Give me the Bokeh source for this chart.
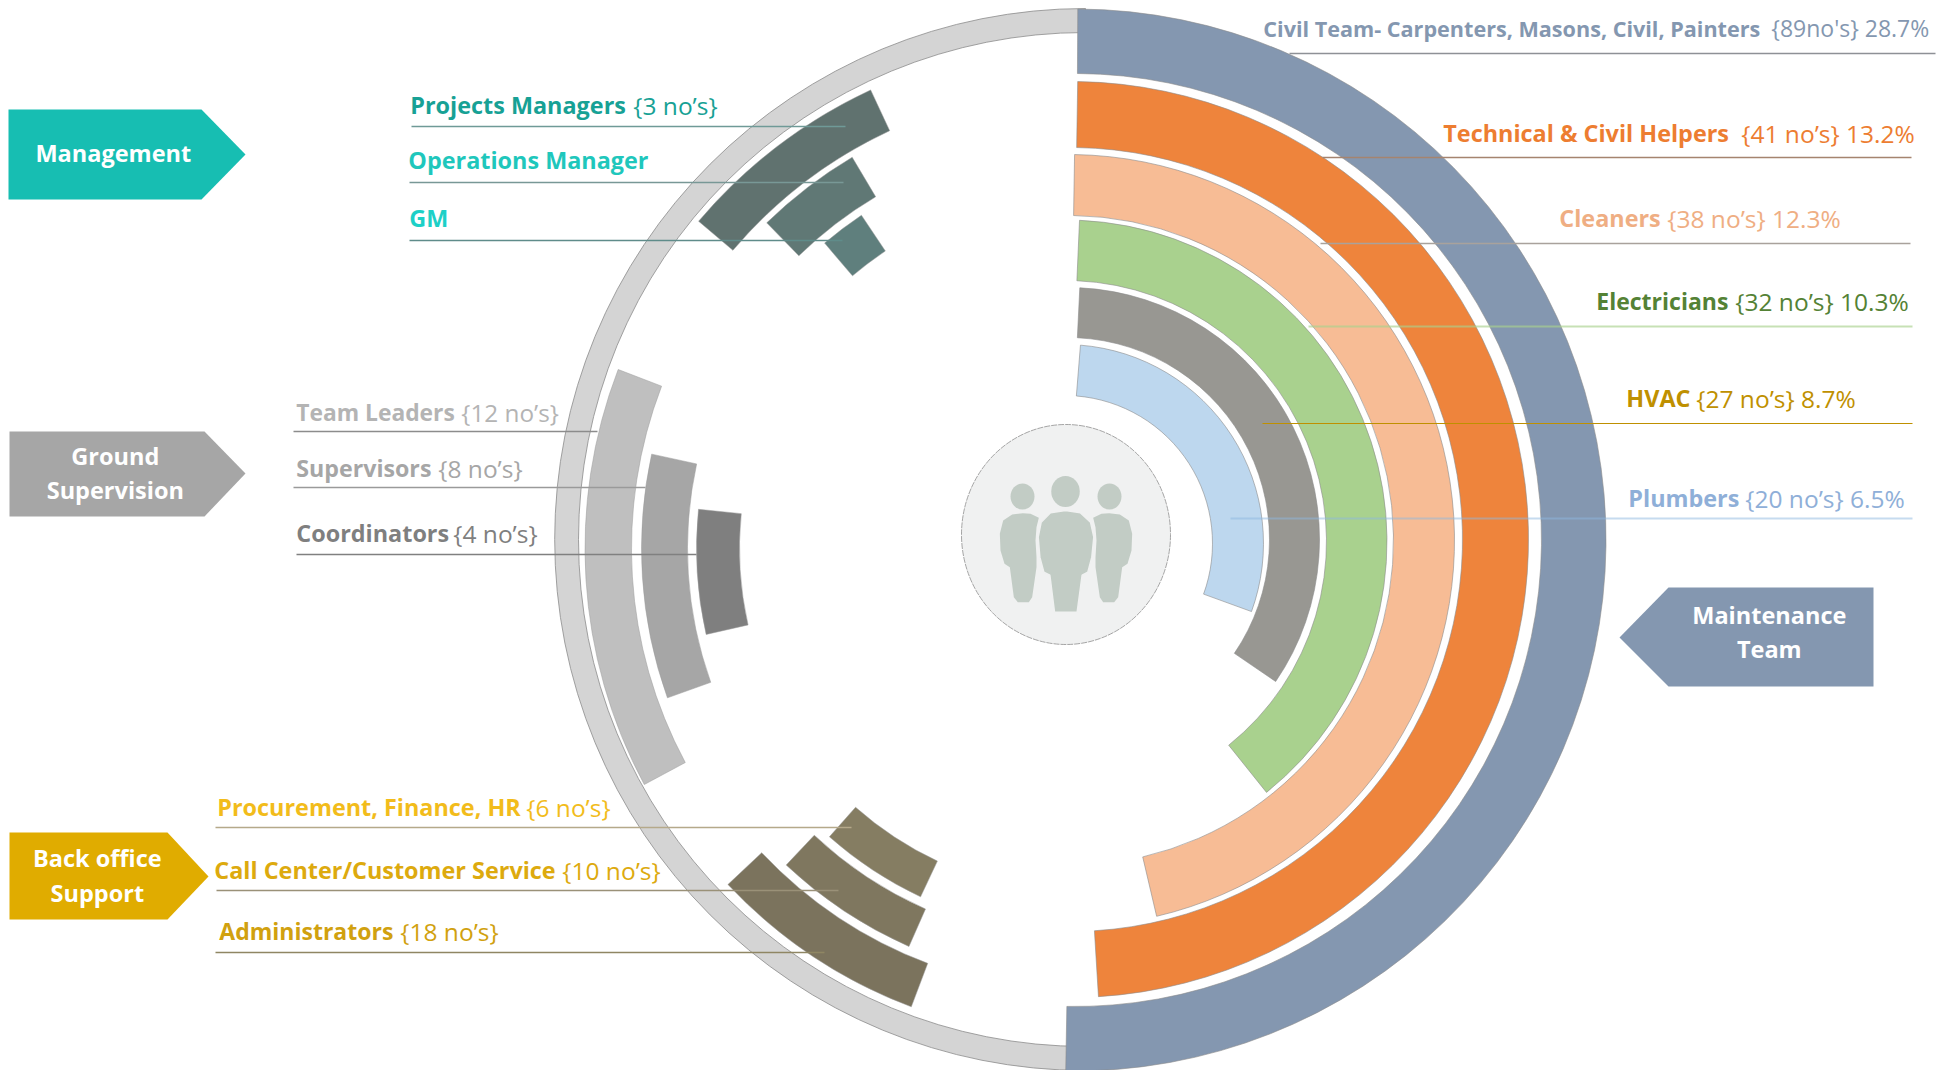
from bokeh.plotting import figure
from bokeh.models import Range1d, ColumnDataSource
from bokeh.core.properties import value
from bokeh.embed import file_html
from bokeh.resources import INLINE

H = 1070
FONT = "Open Sans"
TEXT_DY = 9.2
TEXT_DX = -1.2

# ---------- data: maintenance team (clockwise degrees from 12 o'clock)
maint_names = ["Civil Team- Carpenters, Masons, Civil, Painters", "Technical & Civil Helpers", "Cleaners",
               "Electricians", "HVAC", "Plumbers"]
maint_counts = [89, 41, 38, 32, 27, 20]
maint_pct = [28.7, 13.2, 12.3, 10.3, 8.7, 6.5]
maint_detail = ["{89no's} 28.7%", "{41 no’s} 13.2%", "{38 no’s} 12.3%", "{32 no’s} 10.3%", "{27 no’s} 8.7%", "{20 no’s} 6.5%"]
maint_from = [0.3, 0.9, 0.9, 2.5, 2.8, 4.6]
maint_to = [181.0, 176.5, 166.8, 141.3, 124.3, 110.0]

# other groups (counter-clockwise degrees from 3 o'clock)
mgmt_names = ["Projects Managers", "Operations Manager", "GM"]
mgmt_detail = ["{3 no’s}", "", ""]
mgmt_from = [115.0, 120.7, 123.8]
mgmt_to = [139.7, 134.3, 130.4]

ground_names = ["Team Leaders", "Supervisors", "Coordinators"]
ground_detail = ["{12 no’s}", "{8 no’s}", "{4 no’s}"]
ground_from = [159.0, 167.7, 174.2]
ground_to = [208.2, 199.7, 192.8]

back_names = ["Procurement, Finance, HR", "Call Center/Customer Service", "Administrators"]
back_detail = ["{6 no’s}", "{10 no’s}", "{18 no’s}"]
back_from = [228.5, 226.7, 223.3]
back_to = [244.8, 246.2, 249.3]

# ---------- layout & style
m_cx = [1074.5, 1070, 1068, 1065, 1067, 1064]
m_cy = [539.5, 539, 540, 541, 539, 543]
m_ro = [531, 458, 386, 321.5, 252, 199]
m_ri = [466.5, 392, 325, 261, 202, 148]
m_col = ["#8497B0", "#EE843C", "#F7BC95", "#A9D18E", "#989792", "#BDD7EE"]

L_CX, L_CY = 1084, 548
mg_ro, mg_ri = [506, 455, 401], [461, 409, 358]
mg_col = ["#60726F", "#607875", "#5F7F7D"]
gr_ro, gr_ri = [499.5, 443, 388], [453, 397, 345]
gr_col = ["#BFBFBF", "#A6A6A6", "#7F7F7F"]
bk_ro, bk_ri = [385, 435, 490], [345.5, 394, 443.5]
bk_col = ["#857D62", "#7F775F", "#7B735D"]

p = figure(width=1956, height=1070, x_range=Range1d(0, 1956), y_range=Range1d(0, 1070),
           output_backend="svg", toolbar_location=None, x_axis_type=None, y_axis_type=None,
           min_border=0, outline_line_color=None, background_fill_color="white", border_fill_color="white")
p.xgrid.visible = False
p.ygrid.visible = False


def Y(v):
    return H - v


# grey backing ring
p.annular_wedge(x=[1085], y=[Y(539)], inner_radius=[507], outer_radius=[531], start_angle=[90], end_angle=[270],
                start_angle_units="deg", end_angle_units="deg", fill_color="#D4D4D4",
                line_color="#8c8c8c", line_width=0.8)

# maintenance arcs
src = ColumnDataSource(dict(x=m_cx, y=[Y(v) for v in m_cy], ri=m_ri, ro=m_ro,
                            a0=[90 - v for v in maint_to], a1=[90 - v for v in maint_from], c=m_col))
p.annular_wedge(x="x", y="y", inner_radius="ri", outer_radius="ro", start_angle="a0", end_angle="a1",
                start_angle_units="deg", end_angle_units="deg", fill_color="c",
                line_color="#8c8c8c", line_width=0.6, source=src)

# other groups
for a0, a1, ri, ro, col in [(mgmt_from, mgmt_to, mg_ri, mg_ro, mg_col), (ground_from, ground_to, gr_ri, gr_ro, gr_col),
                            (back_from, back_to, bk_ri, bk_ro, bk_col)]:
    s = ColumnDataSource(dict(x=[L_CX] * 3, y=[Y(L_CY)] * 3, ri=ri, ro=ro, a0=a0, a1=a1, c=col))
    p.annular_wedge(x="x", y="y", inner_radius="ri", outer_radius="ro", start_angle="a0", end_angle="a1",
                    start_angle_units="deg", end_angle_units="deg", fill_color="c",
                    line_color="#9a9a9a", line_width=0.5, source=s)

# centre badge with people icon
p.ellipse(x=[1065.5], y=[Y(534)], width=[209], height=[220], fill_color="#F0F1F1", line_color="#8f8f8f",
          line_width=0.8, line_dash="6 1")
ICON = "#C2CCC5"
p.ellipse(x=[1065, 1022, 1109], y=[Y(491), Y(496), Y(496)], width=[28.5, 24, 24], height=[31, 26, 26], fill_color=ICON, line_color=None)
icon_mid = [(405, 330), (450, 337), (480, 365), (490, 410), (484, 470), (472, 515), (455, 524), (440, 635), (372, 635),
            (358, 524), (340, 515), (328, 470), (323, 410), (332, 365), (360, 337)]
icon_left = [(277, 338), (300, 340), (325, 352), (318, 380), (315, 420), (318, 470), (318, 500), (305, 590), (295, 605),
             (262, 605), (250, 590), (238, 500), (222, 490), (210, 450), (208, 400), (218, 360), (245, 342)]
p.patch([930 + a / 3 for a, b in icon_left], [Y(400 + b / 3) for a, b in icon_left], fill_color=ICON, line_color=None)
p.patch([930 + (813 - a) / 3 for a, b in icon_left], [Y(400 + b / 3) for a, b in icon_left], fill_color=ICON, line_color=None)
p.patch([930 + a / 3 for a, b in icon_mid], [Y(400 + b / 3) for a, b in icon_mid], fill_color=ICON, line_color="#F0F1F1", line_width=1.5)

# category arrows
arrows = [
    ([8, 201, 245, 201, 8], [109, 109, 154, 199, 199], "#17BEB2", ["Management"], [114], [162]),
    ([9, 204, 245, 204, 9], [431, 431, 473, 516, 516], "#A6A6A6", ["Ground", "Supervision"], [116, 116], [465, 499]),
    ([9, 167, 208, 167, 9], [832, 832, 876, 919, 919], "#E0AC00", ["Back office", "Support"], [98, 98], [867, 902]),
    ([1873, 1668, 1619, 1668, 1873], [587, 587, 637, 686, 686], "#8497B0", ["Maintenance", "Team"], [1770, 1770], [624, 658]),
]
for xs, ys, col, lines, tx, ty in arrows:
    p.patch(xs, [Y(v) for v in ys], fill_color=col, line_color=None)
    p.text(x=[v + TEXT_DX for v in tx], y=[Y(v - TEXT_DY) for v in ty], text=lines, text_color="white",
           text_font=value(FONT), text_font_size="23.5px",
           text_font_style="bold", text_align="center", text_baseline="alphabetic")

# leader lines: x0, x1, y, colour, width, alpha
leaders = [
    (411, 845, 126, "#6F9A97", 1.3, 1), (409, 843, 182, "#789896", 1.3, 1), (409, 842, 240, "#5F8C8A", 1.3, 1),
    (293, 597, 431, "#8C8C8C", 1.3, 1), (293, 645, 487, "#9A9A9A", 1.5, 1), (296, 696, 554, "#808080", 1.5, 1),
    (215, 851, 827, "#B5A98A", 1.6, 1), (216, 838, 890, "#9A9178", 1.4, 1), (215, 824, 952, "#8F8663", 1.5, 1),
    (1289, 1935, 53, "#8E9196", 1.4, 1), (1322, 1911, 157, "#A5846F", 1.3, 1), (1320, 1910, 243, "#A9A29C", 1.4, 1),
    (1308, 1912, 326, "#A9D18E", 2, 0.65), (1262, 1912, 423, "#BF9000", 1.2, 1), (1230, 1912, 518, "#8DB8E0", 2.2, 0.5),
]
p.segment(x0=[l[0] for l in leaders], x1=[l[1] for l in leaders], y0=[Y(l[2]) for l in leaders], y1=[Y(l[2]) for l in leaders],
          line_color=[l[3] for l in leaders], line_width=[l[4] for l in leaders], line_alpha=[l[5] for l in leaders])

# labels: name, detail, x, detail x, baseline, colour, name size, detail size
labels = [
    (mgmt_names[0], mgmt_detail[0], 411, 634, 114, "#17A195", 23.4, 24.5),
    (mgmt_names[1], mgmt_detail[1], 409, 0, 169, "#1FC7BC", 23.4, 24.5),
    (mgmt_names[2], mgmt_detail[2], 410, 0, 227, "#1DD0C7", 23.4, 24.5),
    (ground_names[0], ground_detail[0], 297, 462, 421, "#B4B4B4", 22.8, 24.3),
    (ground_names[1], ground_detail[1], 297, 439, 477, "#A6A6A6", 23.2, 24.5),
    (ground_names[2], ground_detail[2], 297, 454, 542, "#7F7F7F", 23.4, 24.5),
    (back_names[0], back_detail[0], 218, 527, 816, "#F2BC1B", 23.4, 24.5),
    (back_names[1], back_detail[1], 215, 563, 879, "#DDAA0E", 23.4, 24.5),
    (back_names[2], back_detail[2], 220, 401, 940, "#D1A10F", 23, 24.5),
    (maint_names[0], maint_detail[0], 1264, 1772, 37, "#8497B0", 21.6, 23),
    (maint_names[1], maint_detail[1], 1444, 1742, 142, "#ED7D31", 23.4, 24.5),
    (maint_names[2], maint_detail[2], 1560, 1668, 227, "#EFAE83", 23.4, 24.5),
    (maint_names[3], maint_detail[3], 1597, 1736, 310, "#548235", 23, 24.5),
    (maint_names[4], maint_detail[4], 1627, 1697, 407, "#BF9000", 23.4, 24.5),
    (maint_names[5], maint_detail[5], 1629, 1746, 507, "#8FAFD8", 23.4, 24.5),
]
for name, det, x0, x1, y0, col, s0, s1 in labels:
    p.text(x=[x0 + TEXT_DX], y=[Y(y0 - TEXT_DY)], text=[name], text_color=col, text_font=value(FONT), text_font_size=f"{s0}px",
           text_font_style="bold", text_align="left", text_baseline="alphabetic")
    if det:
        p.text(x=[x1 + TEXT_DX], y=[Y(y0 - TEXT_DY)], text=[det], text_color=col, text_font=value(FONT), text_font_size=f"{s1}px",
               text_align="left", text_baseline="alphabetic")

open("out.html", "w").write(file_html(p, INLINE))
